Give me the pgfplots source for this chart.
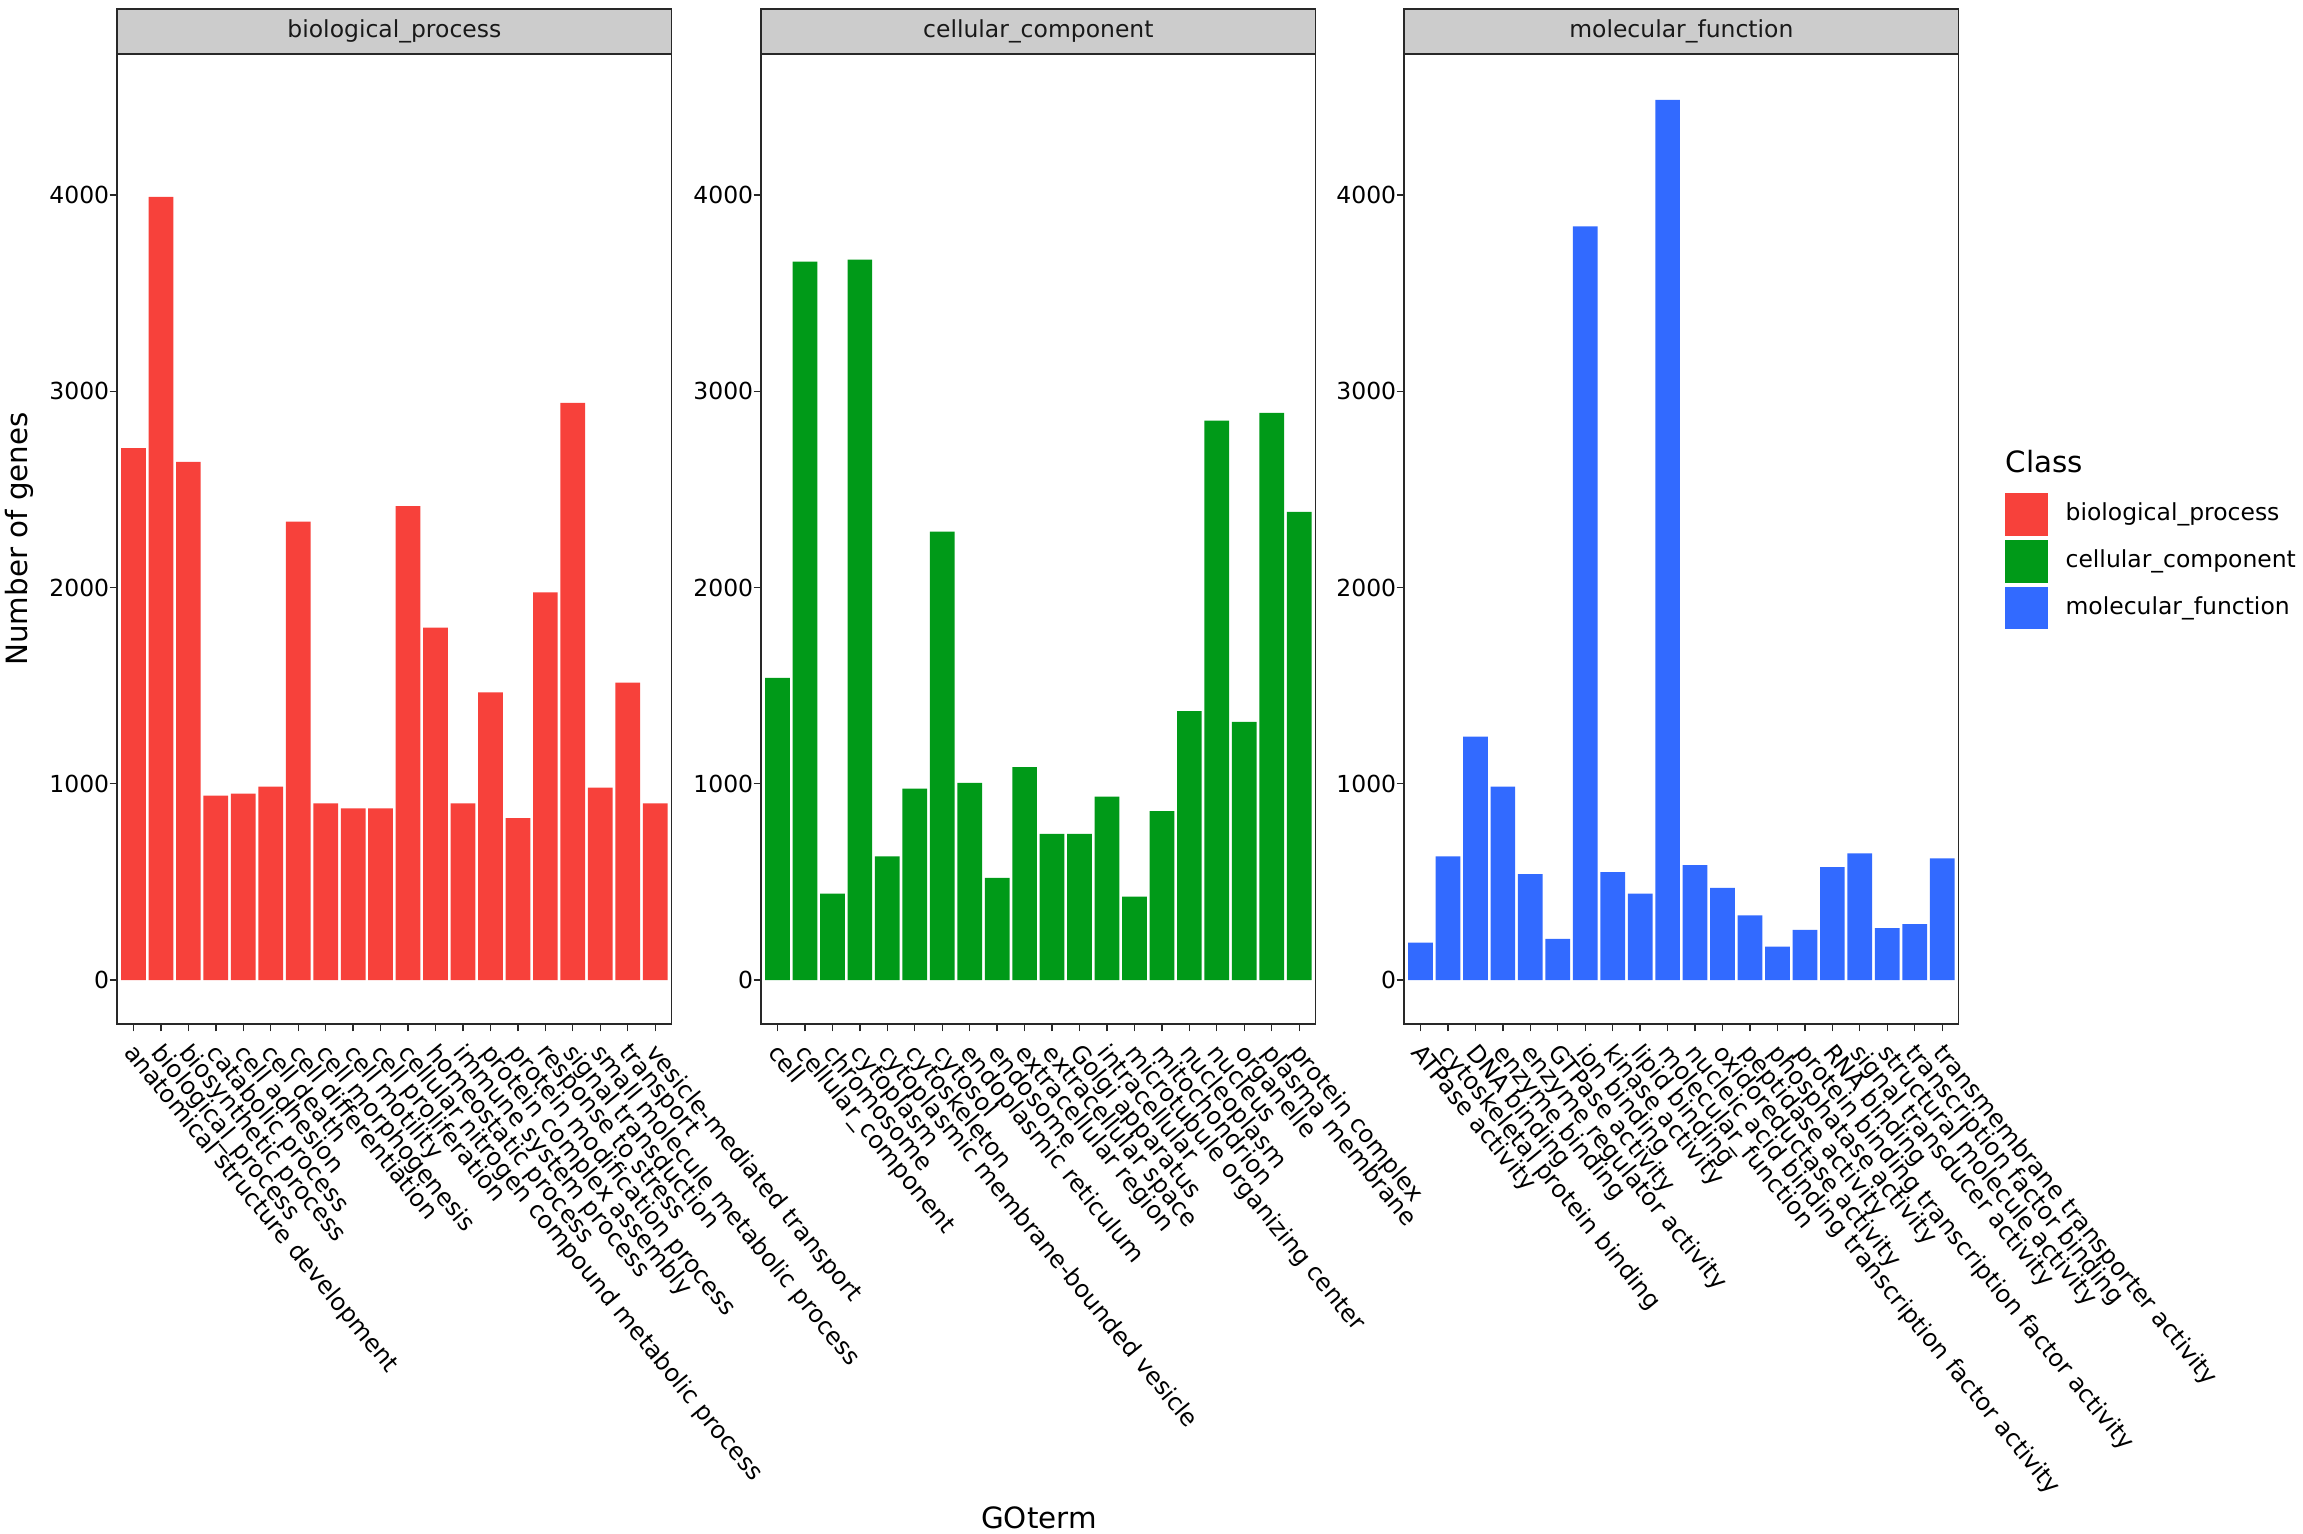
\documentclass[border=0pt]{standalone}
\usepackage{pgfplots}
\pgfplotsset{compat=1.18}
\usepackage{fontspec}
\setmainfont{DejaVu Sans}
\definecolor{bpcol}{RGB}{247,65,59}
\definecolor{cccol}{RGB}{0,154,24}
\definecolor{mfcol}{RGB}{50,106,255}
\definecolor{stripfill}{RGB}{204,204,204}
\definecolor{axcol}{RGB}{40,40,40}
\newcommand{\tickfont}{\fontsize{8.8}{10}\selectfont}
\newcommand{\xtickfont}{\fontsize{9}{10}\selectfont}
\newcommand{\titlefont}{\fontsize{11}{13}\selectfont}
\pgfplotsset{
  facet/.style={
    scale only axis, width=208pt, height=363.75pt,
    anchor=south west,
    xmin=0.4, xmax=20.6, ymin=-224, ymax=4718,
    axis line style={axcol, line width=0.5pt},
    tick style={axcol, line width=0.5pt},
    tick align=outside, major tick length=2.75pt,
    xtick={1,...,20}, ytick={0,1000,2000,3000,4000},
    yticklabels={0,1000,2000,3000,4000},
    xtick pos=bottom, ytick pos=left,
    x tick label style={xshift=1.5pt, yshift=-3.5pt, rotate=-50.5, anchor=north west, font=\xtickfont, inner sep=0pt, text=black},
    y tick label style={font=\tickfont, inner sep=0pt, text=black},
    ybar, bar width=0.9,
  }
}
\begin{document}
\begin{tikzpicture}
\begin{axis}[facet, at={(43.875pt,190.875pt)},
  xticklabels={anatomical structure development,biological\_process,biosynthetic process,catabolic process,cell adhesion,cell death,cell differentiation,cell morphogenesis,cell motility,cell proliferation,cellular nitrogen compound metabolic process,homeostatic process,immune system process,protein complex assembly,protein modification process,response to stress,signal transduction,small molecule metabolic process,transport,vesicle-mediated transport}]
\addplot[fill=bpcol, draw=none] coordinates {(1,2710) (2,3990) (3,2640) (4,940) (5,950) (6,985) (7,2335) (8,900) (9,875) (10,875) (11,2415) (12,1795) (13,900) (14,1465) (15,825) (16,1975) (17,2940) (18,980) (19,1515) (20,900)};
\end{axis}
\begin{axis}[facet, at={(285.375pt,190.875pt)},
  xticklabels={cell,cellular\_component,chromosome,cytoplasm,cytoplasmic membrane-bounded vesicle,cytoskeleton,cytosol,endoplasmic reticulum,endosome,extracellular region,extracellular space,Golgi apparatus,intracellular,microtubule organizing center,mitochondrion,nucleoplasm,nucleus,organelle,plasma membrane,protein complex}]
\addplot[fill=cccol, draw=none] coordinates {(1,1540) (2,3660) (3,440) (4,3670) (5,630) (6,975) (7,2285) (8,1005) (9,520) (10,1085) (11,745) (12,745) (13,935) (14,425) (15,860) (16,1370) (17,2850) (18,1315) (19,2890) (20,2385)};
\end{axis}
\begin{axis}[facet, at={(526.5pt,190.875pt)},
  xticklabels={ATPase activity,cytoskeletal protein binding,DNA binding,enzyme binding,enzyme regulator activity,GTPase activity,ion binding,kinase activity,lipid binding,molecular\_function,nucleic acid binding transcription factor activity,oxidoreductase activity,peptidase activity,phosphatase activity,protein binding transcription factor activity,RNA binding,signal transducer activity,structural molecule activity,transcription factor binding,transmembrane transporter activity}]
\addplot[fill=mfcol, draw=none] coordinates {(1,190) (2,630) (3,1240) (4,985) (5,540) (6,210) (7,3840) (8,550) (9,440) (10,4484) (11,585) (12,470) (13,330) (14,170) (15,255) (16,575) (17,645) (18,265) (19,285) (20,620)};
\end{axis}
% strips
\foreach \x/\lab in {43.875/biological\_process, 285.375/cellular\_component, 526.5/molecular\_function}{
  \draw[axcol, line width=0.5pt, fill=stripfill] (\x pt,554.625pt) rectangle ++(208pt,16.875pt);
  \draw[axcol, line width=1pt] (\x pt,554.625pt) -- ++(208pt,0pt);
  \node[font=\tickfont, text=black!90, inner sep=0pt] at ({\x pt+104pt},563.06pt) {\lab};
}
% axis titles
\node[font=\titlefont, anchor=base, inner sep=0pt] at (389.6pt,1.8pt) {GOterm};
\node[font=\titlefont, rotate=90, inner sep=0pt] at (7.4pt,372.75pt) {Number of genes};
% legend
\node[font=\titlefont, anchor=base west, inner sep=0pt] at (751.9pt,397.5pt) {Class};
\fill[bpcol] (751.9pt,373.9pt) rectangle (768pt,390pt);
\fill[cccol] (751.9pt,356.3pt) rectangle (768pt,372.4pt);
\fill[mfcol] (751.9pt,339.0pt) rectangle (768pt,354.75pt);
\node[font=\tickfont, anchor=west, inner sep=0pt] at (774.4pt,381.95pt) {biological\_process};
\node[font=\tickfont, anchor=west, inner sep=0pt] at (774.4pt,364.35pt) {cellular\_component};
\node[font=\tickfont, anchor=west, inner sep=0pt] at (774.4pt,346.9pt) {molecular\_function};
\pgfresetboundingbox
\path (0,0) rectangle (863.625pt,574.875pt);
\end{tikzpicture}
\end{document}
